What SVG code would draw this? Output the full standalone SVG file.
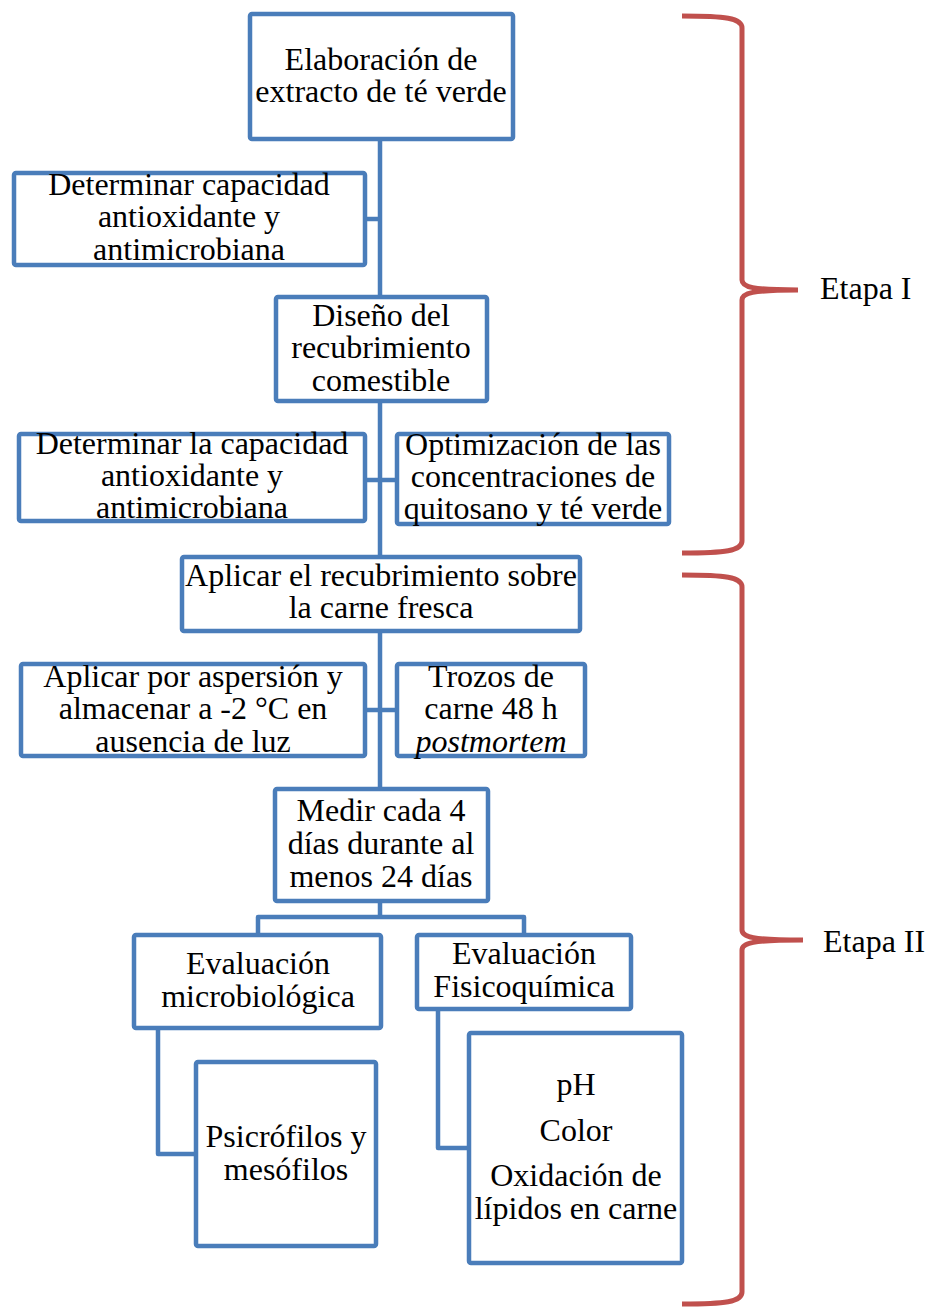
<svg xmlns="http://www.w3.org/2000/svg" width="937" height="1308" viewBox="0 0 937 1308">
<style>
.box{fill:#fff;stroke:#4A7DBA;stroke-width:4.5;stroke-linejoin:round}
.ln{fill:none;stroke:#4A7DBA;stroke-width:4.5;stroke-linejoin:round}
.br{fill:none;stroke:#C0504D;stroke-width:5;stroke-linecap:butt}
text{font-family:"Liberation Serif","Times New Roman",serif;font-size:32px;fill:#000;text-anchor:middle}
.lab{text-anchor:start}
</style>
<rect width="937" height="1308" fill="#fff"/>
<g id="connectors">
<path class="ln" d="M380,139 V917"/>
<path class="ln" d="M365,219 H380"/>
<path class="ln" d="M365,480 H397"/>
<path class="ln" d="M365,710 H397"/>
<path class="ln" d="M258,935 V917 H524 V935"/>
<path class="ln" d="M158,1028 V1154 H196"/>
<path class="ln" d="M438,1009 V1148 H469"/>
</g>
<g id="n1"><rect class="box" x="250" y="14" width="263" height="125" rx="2"/>
<text x="381" y="70">Elaboración de</text><text x="381" y="102">extracto de té verde</text></g>
<g id="n2"><rect class="box" x="14" y="173" width="351" height="92" rx="2"/>
<text x="189" y="195">Determinar capacidad</text><text x="189" y="227">antioxidante y</text><text x="189" y="260">antimicrobiana</text></g>
<g id="n3"><rect class="box" x="276" y="297" width="211" height="104" rx="2"/>
<text x="381" y="326">Diseño del</text><text x="381" y="358">recubrimiento</text><text x="381" y="391">comestible</text></g>
<g id="n4"><rect class="box" x="19" y="434" width="346" height="87" rx="2"/>
<text x="192" y="454">Determinar la capacidad</text><text x="192" y="486">antioxidante y</text><text x="192" y="518">antimicrobiana</text></g>
<g id="n5"><rect class="box" x="397" y="434" width="272" height="90" rx="2"/>
<text x="533" y="455">Optimización de las</text><text x="533" y="487">concentraciones de</text><text x="533" y="519">quitosano y té verde</text></g>
<g id="n6"><rect class="box" x="182" y="557" width="398" height="74" rx="2"/>
<text x="381" y="586">Aplicar el recubrimiento sobre</text><text x="381" y="618">la carne fresca</text></g>
<g id="n7"><rect class="box" x="21" y="664" width="344" height="92" rx="2"/>
<text x="193" y="687">Aplicar por aspersión y</text><text x="193" y="719">almacenar a -2 °C en</text><text x="193" y="752">ausencia de luz</text></g>
<g id="n8"><rect class="box" x="397" y="664" width="188" height="92" rx="2"/>
<text x="491" y="687">Trozos de</text><text x="491" y="719">carne 48 h</text><text x="491" y="752" font-style="italic">postmortem</text></g>
<g id="n9"><rect class="box" x="275" y="789" width="213" height="112" rx="2"/>
<text x="381" y="821">Medir cada 4</text><text x="381" y="854">días durante al</text><text x="381" y="887">menos 24 días</text></g>
<g id="n10"><rect class="box" x="134" y="935" width="247" height="93" rx="2"/>
<text x="258" y="974">Evaluación</text><text x="258" y="1007">microbiológica</text></g>
<g id="n11"><rect class="box" x="417" y="935" width="214" height="74" rx="2"/>
<text x="524" y="964">Evaluación</text><text x="524" y="997">Fisicoquímica</text></g>
<g id="n12"><rect class="box" x="196" y="1062" width="180" height="184" rx="2"/>
<text x="286" y="1147">Psicrófilos y</text><text x="286" y="1180">mesófilos</text></g>
<g id="n13"><rect class="box" x="469" y="1033" width="213" height="230" rx="2"/>
<text x="576" y="1095">pH</text><text x="576" y="1141">Color</text><text x="576" y="1186">Oxidación de</text><text x="576" y="1219">lípidos en carne</text></g>
<g id="braces">
<path class="br" d="M682,16 C725,16 742,18 742,28 L742,280 C742,287 752,290 798,290 C752,290 742,293 742,300 L742,541 C742,551 725,553 682,553"/>
<path class="br" d="M682,575 C725,575 742,577 742,587 L742,930 C742,937 752,940 803,940 C752,940 742,943 742,950 L742,1292 C742,1302 725,1304 682,1304"/>
<text class="lab" x="820" y="299">Etapa I</text>
<text class="lab" x="823" y="952">Etapa II</text>
</g>
</svg>
